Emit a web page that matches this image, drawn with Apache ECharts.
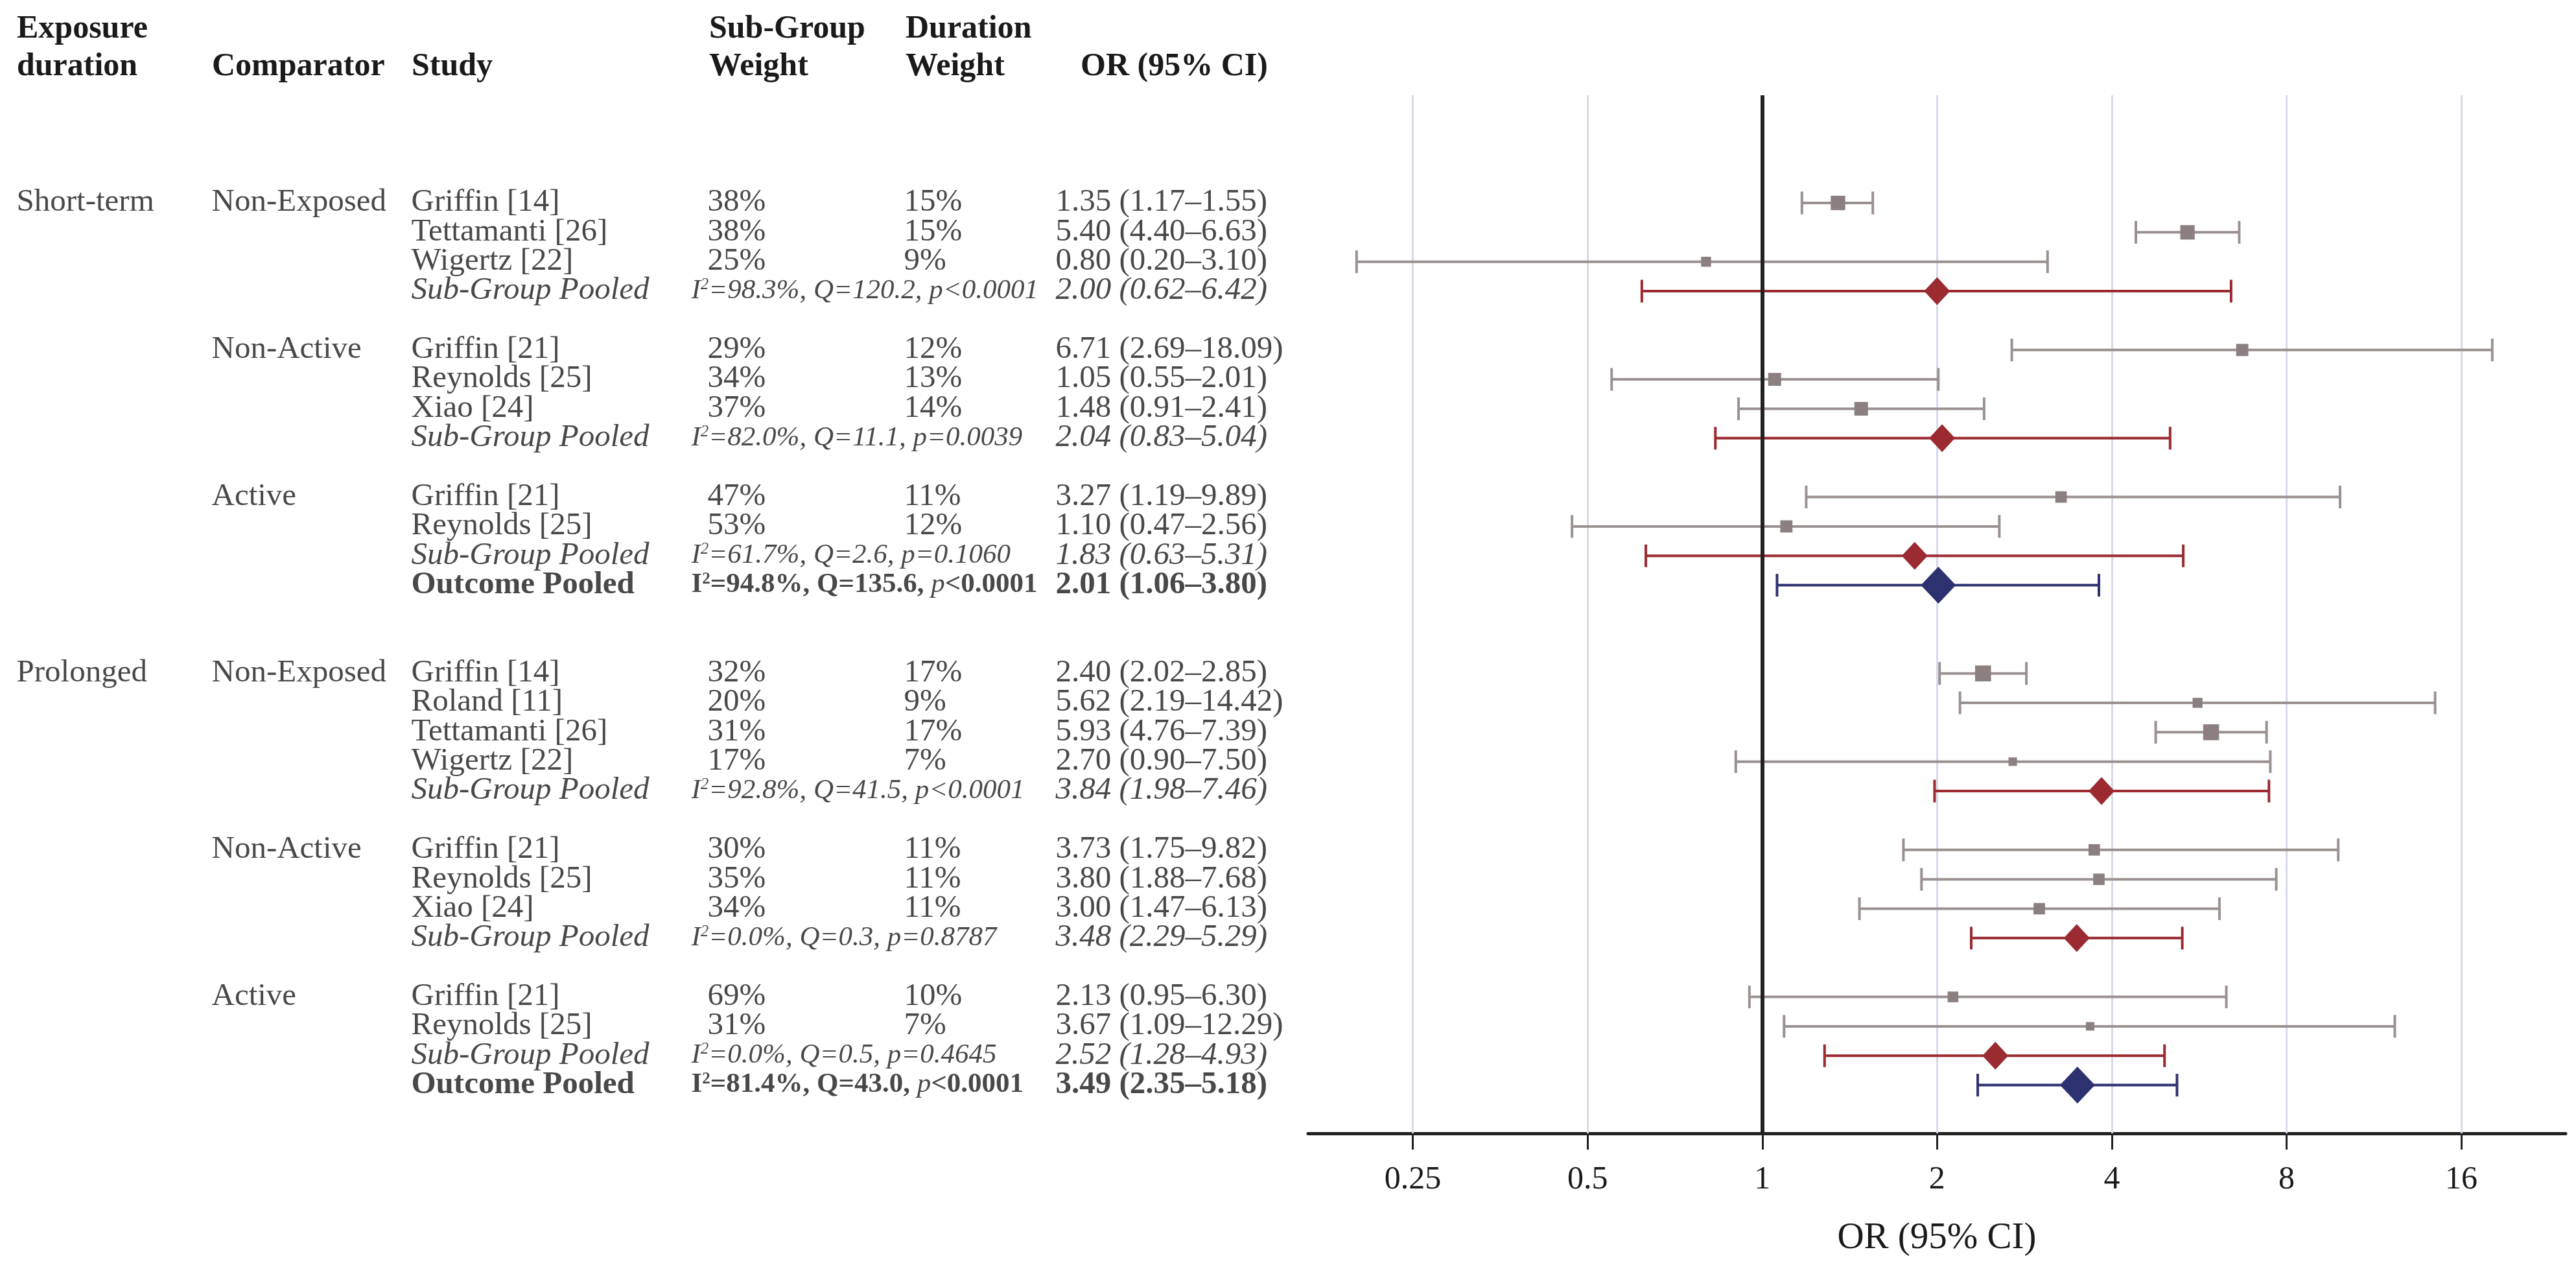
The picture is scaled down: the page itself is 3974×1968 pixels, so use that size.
<!DOCTYPE html>
<html>
<head>
<meta charset="utf-8">
<script src="https://cdn.jsdelivr.net/npm/echarts@6/dist/echarts.min.js"></script>
<style>
  html, body { margin: 0; padding: 0; background: #fff; }
  #main { width: 3974px; height: 1968px; }
</style>
</head>
<body>
<div id="main"></div>
<script>
// exposure durations and comparator sub-groups
var exposureNames = ['Short-term', 'Prolonged'];
var comparatorNames = ['Non-Exposed', 'Non-Active', 'Active', 'Non-Exposed', 'Non-Active', 'Active'];
var comparatorExposure = [0, 0, 0, 1, 1, 1];

// one entry per table row
var rowGroup = [0, 0, 0, 0, 1, 1, 1, 1, 2, 2, 2, 2, 3, 3, 3, 3, 3, 4, 4, 4, 4, 5, 5, 5, 5];
var rowType = ['study', 'study', 'study', 'sub', 'study', 'study', 'study', 'sub', 'study', 'study', 'sub', 'all',
  'study', 'study', 'study', 'study', 'sub', 'study', 'study', 'study', 'sub', 'study', 'study', 'sub', 'all'];
var studyNames = ['Griffin [14]', 'Tettamanti [26]', 'Wigertz [22]', 'Sub-Group Pooled',
  'Griffin [21]', 'Reynolds [25]', 'Xiao [24]', 'Sub-Group Pooled',
  'Griffin [21]', 'Reynolds [25]', 'Sub-Group Pooled', 'Outcome Pooled',
  'Griffin [14]', 'Roland [11]', 'Tettamanti [26]', 'Wigertz [22]', 'Sub-Group Pooled',
  'Griffin [21]', 'Reynolds [25]', 'Xiao [24]', 'Sub-Group Pooled',
  'Griffin [21]', 'Reynolds [25]', 'Sub-Group Pooled', 'Outcome Pooled'];
var subGroupWeight = [38, 38, 25, null, 29, 34, 37, null, 47, 53, null, null,
  32, 20, 31, 17, null, 30, 35, 34, null, 69, 31, null, null];
var durationWeight = [15, 15, 9, null, 12, 13, 14, null, 11, 12, null, null,
  17, 9, 17, 7, null, 11, 11, 11, null, 10, 7, null, null];
var orValue = [1.35, 5.40, 0.80, 2.00, 6.71, 1.05, 1.48, 2.04, 3.27, 1.10, 1.83, 2.01,
  2.40, 5.62, 5.93, 2.70, 3.84, 3.73, 3.80, 3.00, 3.48, 2.13, 3.67, 2.52, 3.49];
var ciLower = [1.17, 4.40, 0.20, 0.62, 2.69, 0.55, 0.91, 0.83, 1.19, 0.47, 0.63, 1.06,
  2.02, 2.19, 4.76, 0.90, 1.98, 1.75, 1.88, 1.47, 2.29, 0.95, 1.09, 1.28, 2.35];
var ciUpper = [1.55, 6.63, 3.10, 6.42, 18.09, 2.01, 2.41, 5.04, 9.89, 2.56, 5.31, 3.80,
  2.85, 14.42, 7.39, 7.50, 7.46, 9.82, 7.68, 6.13, 5.29, 6.30, 12.29, 4.93, 5.18];
// heterogeneity of the pooled rows
var hetI2 = [null, null, null, '98.3%', null, null, null, '82.0%', null, null, '61.7%', '94.8%',
  null, null, null, null, '92.8%', null, null, null, '0.0%', null, null, '0.0%', '81.4%'];
var hetQ = [null, null, null, '120.2', null, null, null, '11.1', null, null, '2.6', '135.6',
  null, null, null, null, '41.5', null, null, null, '0.3', null, null, '0.5', '43.0'];
var hetP = [null, null, null, '<0.0001', null, null, null, '=0.0039', null, null, '=0.1060', '<0.0001',
  null, null, null, null, '<0.0001', null, null, null, '=0.8787', null, null, '=0.4645', '<0.0001'];

var orTicks = [0.25, 0.5, 1, 2, 4, 8, 16];

var headTop = ['Exposure', 'Sub-Group', 'Duration'];
var headTopX = [26, 1094, 1397];
var headBottom = ['duration', 'Comparator', 'Study', 'Weight', 'Weight', 'OR (95% CI)'];
var headBottomX = [26, 327, 635, 1094, 1397, 1667];

var FONT = '"Liberation Serif", "Times New Roman", serif';
var TEXT = '#1a1a1a';
var STUDY_COLOR = '#8b7f7f';
var STUDY_LINE = '#9c9191';
var SUB_COLOR = '#9b2a31';
var ALL_COLOR = '#2e3170';

// row slots: one blank line between sub-groups, two between durations
var rowSlot = [];
var slot = 0;
for (var i = 0; i < rowGroup.length; i++) {
  if (i > 0) {
    if (rowGroup[i] !== rowGroup[i - 1]) {
      slot += comparatorExposure[rowGroup[i]] !== comparatorExposure[rowGroup[i - 1]] ? 3 : 2;
    } else {
      slot += 1;
    }
  }
  rowSlot.push(slot);
}

function fmt(v) { return v.toFixed(2); }
function orText(i) { return fmt(orValue[i]) + ' (' + fmt(ciLower[i]) + '\u2013' + fmt(ciUpper[i]) + ')'; }
var styleKey = { study: 'n', sub: 'i', all: 'b' };

// table columns
var colExposure = [], colComparator = [], colStudy = [], colSubW = [], colDurW = [], colStats = [], colOr = [];
var firstSeenGroup = {}, firstSeenExp = {};
for (var r = 0; r < rowGroup.length; r++) {
  var g = rowGroup[r];
  var e = comparatorExposure[g];
  if (!firstSeenExp[e]) { firstSeenExp[e] = 1; colExposure.push([26, rowSlot[r], '{n|' + exposureNames[e] + '}']); }
  if (!firstSeenGroup[g]) { firstSeenGroup[g] = 1; colComparator.push([327, rowSlot[r], '{n|' + comparatorNames[g] + '}']); }
  var k = styleKey[rowType[r]];
  colStudy.push([635, rowSlot[r], '{' + k + '|' + studyNames[r] + '}']);
  if (subGroupWeight[r] != null) colSubW.push([1092, rowSlot[r], '{n|' + subGroupWeight[r] + '%}']);
  if (durationWeight[r] != null) colDurW.push([1395, rowSlot[r], '{n|' + durationWeight[r] + '%}']);
  if (rowType[r] === 'sub') {
    colStats.push([1067, rowSlot[r], '{si|I}{ssup|2}{si|=' + hetI2[r] + ', Q=' + hetQ[r] + ', p' + hetP[r] + '}']);
  } else if (rowType[r] === 'all') {
    colStats.push([1067, rowSlot[r], '{sb|I}{bsup|2}{sb|=' + hetI2[r] + ', Q=' + hetQ[r] + ', }{sbi|p}{sb|' + hetP[r] + '}']);
  }
  colOr.push([1629, rowSlot[r], '{' + k + '|' + orText(r) + '}']);
}

// plot data
var typeCode = { study: 0, sub: 1, all: 2 };
var ciData = [], studyPts = [], subPts = [], allPts = [];
for (var j = 0; j < orValue.length; j++) {
  ciData.push([ciLower[j], ciUpper[j], rowSlot[j], typeCode[rowType[j]]]);
  if (rowType[j] === 'study') studyPts.push([orValue[j], rowSlot[j], durationWeight[j]]);
  else if (rowType[j] === 'sub') subPts.push([orValue[j], rowSlot[j]]);
  else allPts.push([orValue[j], rowSlot[j]]);
}

var rich = {
  n: { fontFamily: FONT, fontSize: 49, color: TEXT },
  i: { fontFamily: FONT, fontSize: 49, color: TEXT, fontStyle: 'italic' },
  b: { fontFamily: FONT, fontSize: 49, color: TEXT, fontWeight: 'bold' },
  si: { fontFamily: FONT, fontSize: 43, color: TEXT, fontStyle: 'italic' },
  sb: { fontFamily: FONT, fontSize: 43, color: TEXT, fontWeight: 'bold' },
  sbi: { fontFamily: FONT, fontSize: 43, color: TEXT, fontStyle: 'italic' },
  ssup: { fontFamily: FONT, fontSize: 25, color: TEXT, fontStyle: 'italic', verticalAlign: 'top' },
  bsup: { fontFamily: FONT, fontSize: 25, color: TEXT, fontWeight: 'bold', verticalAlign: 'top' }
};

function textSeries(data) {
  return {
    type: 'scatter',
    xAxisIndex: 1,
    yAxisIndex: 1,
    symbolSize: 1,
    itemStyle: { color: 'rgba(0,0,0,0)' },
    silent: true,
    data: data,
    label: {
      show: true,
      position: [0, 0],
      align: 'left',
      verticalAlign: 'middle',
      formatter: function (p) { return p.data[2]; },
      rich: rich
    }
  };
}

var chart = echarts.init(document.getElementById('main'), null, { renderer: 'canvas' });

var graphics = [];
headTop.forEach(function (t, idx) {
  graphics.push({ type: 'text', x: headTopX[idx], y: 45, silent: true,
    style: { text: t, fontFamily: FONT, fontSize: 50, fontWeight: 'bold', fill: TEXT,
      align: 'left', verticalAlign: 'middle', textAlign: 'left', textVerticalAlign: 'middle' } });
});
headBottom.forEach(function (t, idx) {
  graphics.push({ type: 'text', x: headBottomX[idx], y: 103, silent: true,
    style: { text: t, fontFamily: FONT, fontSize: 50, fontWeight: 'bold', fill: TEXT,
      align: 'left', verticalAlign: 'middle', textAlign: 'left', textVerticalAlign: 'middle' } });
});

var option = {
  animation: false,
  backgroundColor: '#fff',
  graphic: graphics,
  grid: [
    { left: 2018, right: 16, top: 147, bottom: 220, outerBoundsMode: 'none' },
    { left: 0, width: 2000, top: 147, bottom: 220, outerBoundsMode: 'none' }
  ],
  xAxis: [
    {
      type: 'log',
      logBase: 2,
      gridIndex: 0,
      min: 0.165,
      max: 24.2,
      axisLine: { show: true, onZero: false, lineStyle: { color: '#222', width: 5 } },
      axisTick: { show: true, customValues: orTicks, length: 25, lineStyle: { color: '#222', width: 3 } },
      axisLabel: {
        show: true, customValues: orTicks, margin: 47,
        fontFamily: FONT, fontSize: 50, color: TEXT,
        formatter: function (v) { return String(+v.toFixed(2)); }
      },
      splitLine: { show: false },
      name: 'OR (95% CI)',
      nameLocation: 'middle',
      nameGap: 134,
      nameTextStyle: { fontFamily: FONT, fontSize: 57, color: TEXT }
    },
    { type: 'value', gridIndex: 1, min: 0, max: 2000, show: false }
  ],
  yAxis: [
    { type: 'value', gridIndex: 0, inverse: true, min: -3.66, max: 31.64, show: false },
    { type: 'value', gridIndex: 1, inverse: true, min: -3.66, max: 31.64, show: false }
  ],
  series: [
    {
      // vertical grid lines
      type: 'scatter', xAxisIndex: 0, yAxisIndex: 0, data: [], silent: true,
      markLine: {
        z: 1, silent: true, symbol: ['none', 'none'], label: { show: false },
        lineStyle: { color: '#d6dbe7', width: 3, type: 'solid' },
        data: orTicks.map(function (t) { return { xAxis: t }; })
      }
    },
    {
      type: 'custom',
      xAxisIndex: 0, yAxisIndex: 0,
      z: 2,
      silent: true,
      encode: { x: [0, 1], y: 2 },
      data: ciData,
      renderItem: function (params, api) {
        var y = api.value(2);
        var p0 = api.coord([api.value(0), y]);
        var p1 = api.coord([api.value(1), y]);
        var code = api.value(3);
        var color = code === 0 ? STUDY_LINE : (code === 1 ? SUB_COLOR : ALL_COLOR);
        var h = 17.5;
        var st = { stroke: color, lineWidth: 4 };
        return {
          type: 'group',
          children: [
            { type: 'line', shape: { x1: p0[0], y1: p0[1], x2: p1[0], y2: p1[1] }, style: st },
            { type: 'line', shape: { x1: p0[0], y1: p0[1] - h, x2: p0[0], y2: p0[1] + h }, style: st },
            { type: 'line', shape: { x1: p1[0], y1: p1[1] - h, x2: p1[0], y2: p1[1] + h }, style: st }
          ]
        };
      }
    },
    {
      // line of no effect
      type: 'scatter', xAxisIndex: 0, yAxisIndex: 0, data: [], silent: true,
      markLine: {
        z: 3, silent: true, symbol: ['none', 'none'], label: { show: false },
        lineStyle: { color: '#222', width: 6, type: 'solid' },
        data: [{ xAxis: 1 }]
      }
    },
    {
      type: 'scatter', xAxisIndex: 0, yAxisIndex: 0, z: 4, silent: true,
      symbol: 'rect',
      symbolSize: function (v) { var s = 5 + 1.15 * v[2]; return [s, s]; },
      itemStyle: { color: STUDY_COLOR, opacity: 1 },
      data: studyPts
    },
    {
      type: 'scatter', xAxisIndex: 0, yAxisIndex: 0, z: 4, silent: true,
      symbol: 'diamond', symbolSize: [40, 43],
      itemStyle: { color: SUB_COLOR, opacity: 1 },
      data: subPts
    },
    {
      type: 'scatter', xAxisIndex: 0, yAxisIndex: 0, z: 4, silent: true,
      symbol: 'diamond', symbolSize: [54, 57],
      itemStyle: { color: ALL_COLOR, opacity: 1 },
      data: allPts
    },
    textSeries(colExposure),
    textSeries(colComparator),
    textSeries(colStudy),
    textSeries(colSubW),
    textSeries(colDurW),
    textSeries(colStats),
    textSeries(colOr)
  ]
};

chart.setOption(option);
</script>
</body>
</html>
